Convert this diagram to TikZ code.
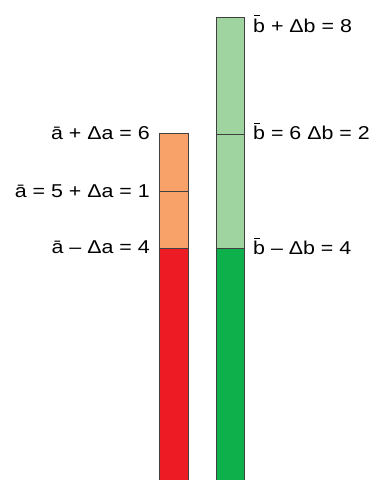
\documentclass[tikz,border=0pt]{standalone}
\usepackage{fontspec}
\setmainfont{Liberation Sans}[FakeStretch=1.15]
\newcommand{\bbar}{\rlap{\hspace{0.06em}\rule[0.86em]{0.3em}{0.055em}}b}
\tikzset{
  bar/.style={draw=black!75, line width=0.8pt},
  lbl/.style={font=\fontsize{18.6}{20}\selectfont, inner sep=0pt},
}
\definecolor{redA}{HTML}{ED1C24}
\definecolor{orangeA}{HTML}{F8A26A}
\definecolor{greenB}{HTML}{0DB04B}
\definecolor{lightB}{HTML}{9FD4A0}
\begin{document}
\begin{tikzpicture}[x=1pt,y=1pt]
        \useasboundingbox (0,0) rectangle (386,480);

        % Sloupec a
        \fill[redA] (159.5,0) rectangle (188.5,232);
        \fill[orangeA] (159.5,232) rectangle (188.5,347);
        \draw[bar] (159.5,0) rectangle (188.5,347);
        \draw[bar] (159.5,232) -- (188.5,232);
        \draw[bar] (159.5,289) -- (188.5,289);

        % Sloupec b
        \fill[greenB] (216,0) rectangle (244.5,232);
        \fill[lightB] (216,232) rectangle (244.5,463);
        \draw[bar] (216,0) rectangle (244.5,463);
        \draw[bar] (216,232) -- (244.5,232);
        \draw[bar] (216,346) -- (244.5,346);

        % Popisky a
        \node[lbl, anchor=base east] (aup) at (150,340.5) {ā + Δa = 6};
        \node[lbl, anchor=base east] (amid) at (150,282.5) {ā = 5 + Δa = 1};
        \node[lbl, anchor=base east] (alow) at (150,226) {ā – Δa = 4};

        % Popisky b
        \node[lbl, anchor=base west] (bup) at (253,447.7) {\bbar{} + Δb = 8};
        \node[lbl, anchor=base west] (bmid) at (253,340) {\bbar{} = 6 Δb = 2};
        \node[lbl, anchor=base west] (blow) at (253,225) {\bbar{} – Δb = 4};
\end{tikzpicture}
\end{document}
